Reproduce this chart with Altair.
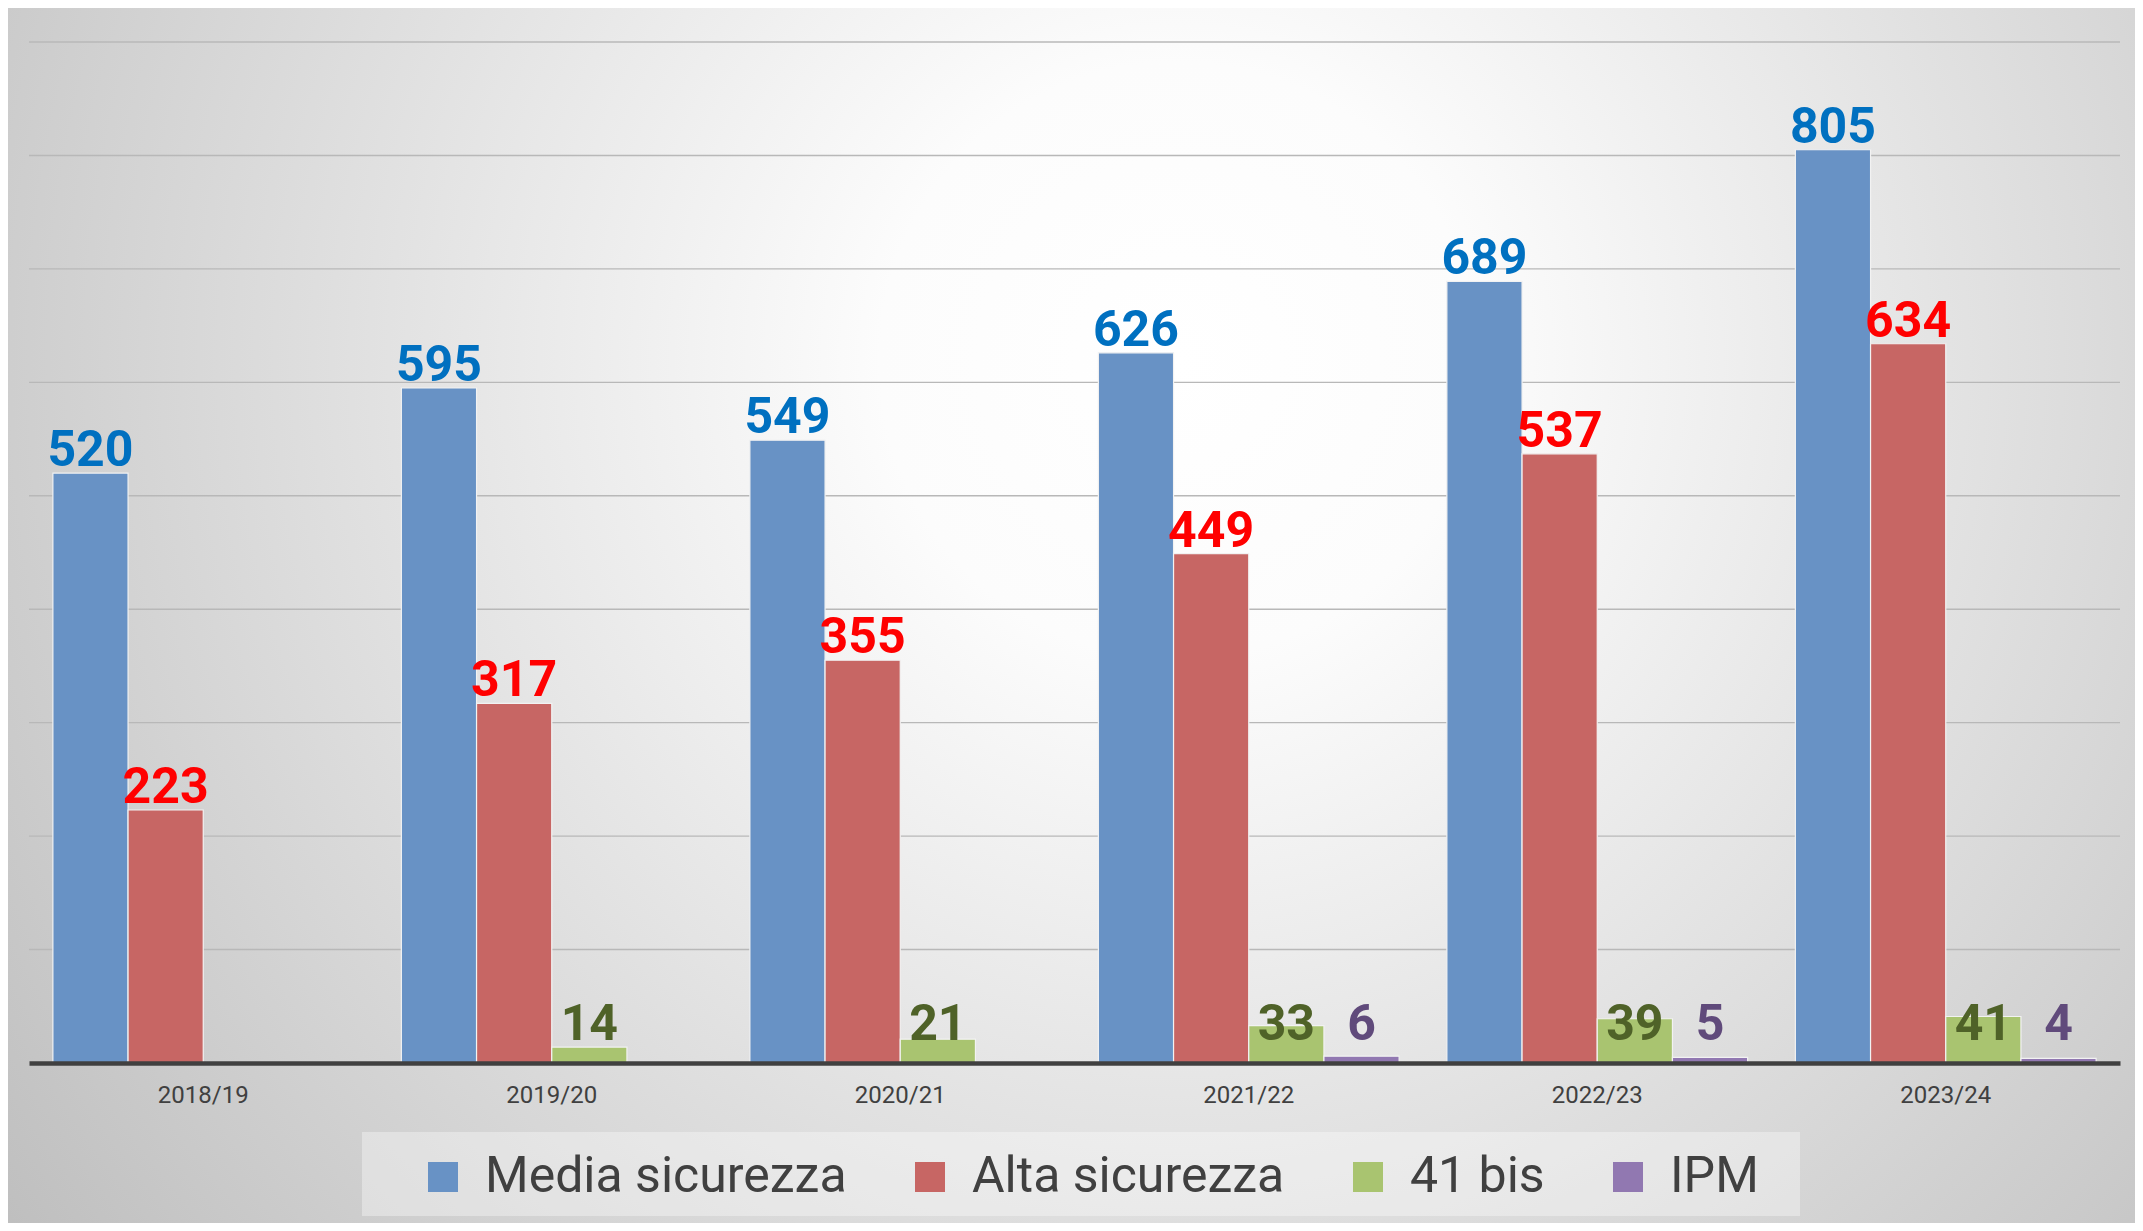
import altair as alt
import pandas as pd

years = ["2018/19", "2019/20", "2020/21", "2021/22", "2022/23", "2023/24"]
series_names = ["Media sicurezza", "Alta sicurezza", "41 bis", "IPM"]
media = [520, 595, 549, 626, 689, 805]
alta = [223, 317, 355, 449, 537, 634]
bis41 = [None, 14, 21, 33, 39, 41]
ipm = [None, None, None, 6, 5, 4]
grid_values = [100, 200, 300, 400, 500, 600, 700, 800, 900]

bar_colors = ["#6892C5", "#C76664", "#A9C470", "#9178B1"]
label_colors = ["#0070C0", "#FF0000", "#4F6228", "#604A7B"]

rows = []
for name, vals in zip(series_names, [media, alta, bis41, ipm]):
    for y, v in zip(years, vals):
        if v is not None:
            rows.append({"year": y, "series": name, "value": v})
df = pd.DataFrame(rows)

FONT = "Roboto"
W, H = 2091, 1021
PAD = {"left": 21, "top": 34, "right": 15, "bottom": 160}

background = alt.Chart(pd.DataFrame({"k": [0]})).mark_rect(
    color={
        "gradient": "radial",
        "x1": 0.55, "y1": 0.38, "r1": 0,
        "x2": 0.55, "y2": 0.38, "r2": 0.7,
        "stops": [
            {"offset": 0, "color": "#ffffff"},
            {"offset": 0.2, "color": "#fcfcfc"},
            {"offset": 1, "color": "#bdbdbd"},
        ],
    }
).encode(
    x=alt.value(-PAD["left"]), x2=alt.value(W + PAD["right"]),
    y=alt.value(-PAD["top"]), y2=alt.value(H + PAD["bottom"]),
)

legend_box = alt.Chart(pd.DataFrame({"k": [0]})).mark_rect(
    color="#ffffff", opacity=0.35
).encode(
    x=alt.value(333), x2=alt.value(1771),
    y=alt.value(1090), y2=alt.value(1174),
)

y_scale = alt.Scale(domain=[0, 900], nice=False)

grid = alt.Chart(pd.DataFrame({"g": grid_values})).mark_rule(
    color="#b8b8b8", strokeWidth=1.4
).encode(y=alt.Y("g:Q", scale=y_scale, axis=None))

x_enc = alt.X(
    "year:N", sort=years, title=None,
    scale=alt.Scale(paddingInner=0.137, paddingOuter=0.0685),
    axis=alt.Axis(
        labelFont=FONT, labelFontSize=24, labelColor="#404040",
        labelPadding=20, ticks=False, domainColor="#404040",
        domainWidth=4.5, labelAngle=0, zindex=1,
    ),
)
xoff = alt.XOffset("series:N", sort=series_names,
                   scale=alt.Scale(paddingInner=0, paddingOuter=0))

bars = alt.Chart(df).mark_bar(stroke="#f2f2f2", strokeWidth=1.2).encode(
    x=x_enc,
    xOffset=xoff,
    y=alt.Y("value:Q", scale=y_scale, title=None, axis=None),
    color=alt.Color(
        "series:N", sort=series_names,
        scale=alt.Scale(domain=series_names, range=bar_colors),
        legend=alt.Legend(
            title=None, orient="none", legendX=389, legendY=1110,
            direction="horizontal", symbolType="square", symbolSize=900,
            symbolStrokeWidth=0, labelFont=FONT, labelFontSize=50,
            labelColor="#404040", labelLimit=800, columnPadding=58,
            labelOffset=17, padding=0, zindex=1,
        ),
    ),
)

layers = [background, legend_box, grid, bars]
for i, name in enumerate(series_names):
    base = alt.Chart(df).transform_filter(alt.datum.series == name)
    if i < 2:
        txt = base.mark_text(
            font=FONT, fontSize=50, fontWeight="bold", color=label_colors[i],
            baseline="alphabetic", dy=-7,
        ).encode(
            x=alt.X("year:N", sort=years),
            xOffset=alt.XOffset("series:N", sort=series_names),
            y=alt.Y("value:Q", scale=y_scale),
            text="value:Q",
        )
    else:
        txt = base.transform_calculate(label_y="20").mark_text(
            font=FONT, fontSize=50, fontWeight="bold", color=label_colors[i],
            baseline="alphabetic",
        ).encode(
            x=alt.X("year:N", sort=years),
            xOffset=alt.XOffset("series:N", sort=series_names),
            y=alt.Y("label_y:Q", scale=y_scale),
            text="value:Q",
        )
    layers.append(txt)

chart = alt.layer(*layers).properties(
    width=W, height=H, padding=PAD, autosize="none",
    background="#eef2dc",
).configure_view(stroke=None)

chart.save("out.html", embed_options={"renderer": "svg", "actions": False})
